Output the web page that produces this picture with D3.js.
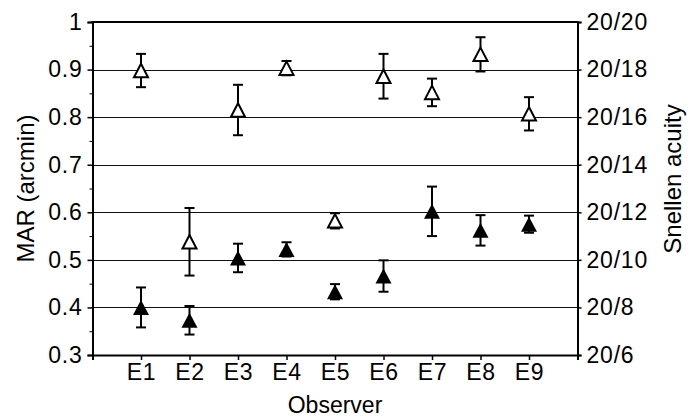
<!DOCTYPE html>
<html>
<head>
<meta charset="utf-8">
<script src="https://cdn.jsdelivr.net/npm/d3@7"></script>
<style>
    body { margin: 0; background: #fff; }
    text { font-family: "Liberation Sans", Arial, Helvetica, sans-serif; fill: #000; }
    .axis text { font-size: 23px; letter-spacing: 0.8px; }
</style>
</head>
<body>
<svg id="canvas"></svg>
<script>
var observers = ["E1", "E2", "E3", "E4", "E5", "E6", "E7", "E8", "E9"];

// open triangles (upper group)
var openMean = [0.898, 0.538, 0.815, 0.903, 0.582, 0.886, 0.852, 0.932, 0.807];
var openErr = [0.035, 0.071, 0.053, 0.015, 0.016, 0.047, 0.029, 0.036, 0.035];

// filled triangles (lower group)
var filledMean = [0.400, 0.373, 0.504, 0.522, 0.433, 0.466, 0.602, 0.562, 0.575];
var filledErr = [0.042, 0.030, 0.030, 0.015, 0.016, 0.033, 0.052, 0.032, 0.018];

var marTicks = [0.3, 0.4, 0.5, 0.6, 0.7, 0.8, 0.9, 1];
var marMinor = [0.35, 0.45, 0.55, 0.65, 0.75, 0.85, 0.95];
var snellenDenoms = [20, 18, 16, 14, 12, 10, 8, 6];

var w = 699
var h = 417
var pLeft = 92.5, pRight = 577.5, pTop = 22, pBottom = 355;

// ########## SVG ##########
var svg = d3.select("#canvas")
    .attr("width", w)
    .attr("height", h);

var x = d3.scaleLinear().domain([0, observers.length + 1]).range([pLeft, pRight]);
var y = d3.scaleLinear().domain([0.3, 1]).range([pBottom, pTop]);

// ########## Grid ##########
svg.append("g")
    .selectAll("line")
    .data(marTicks.filter(function (d) { return d > 0.3 && d < 1; })).enter()
    .append("line")
    .attr("x1", pLeft)
    .attr("x2", pRight)
    .attr("y1", function (d) { return Math.round(y(d)) + 0.5; })
    .attr("y2", function (d) { return Math.round(y(d)) + 0.5; })
    .attr("stroke", "#111")
    .attr("stroke-width", 1.2);

// ########## Axes ##########
var leftAxis = svg.append("g")
    .attr("class", "axis")
    .attr("transform", "translate(" + pLeft + ",0)")
    .call(d3.axisLeft(y).tickValues(marTicks).tickSize(5).tickPadding(5)
        .tickFormat(function (d) { return d === 1 ? "1" : d3.format(".1f")(d); }));

svg.append("g")
    .attr("transform", "translate(" + pLeft + ",0)")
    .call(d3.axisLeft(y).tickValues(marMinor).tickSize(3).tickFormat(""))
    .call(function (g) { g.select(".domain").remove(); });

var rightAxis = svg.append("g")
    .attr("class", "axis")
    .attr("transform", "translate(" + pRight + ",0)")
    .call(d3.axisRight(y).tickValues(snellenDenoms.map(function (d) { return d / 20; }))
        .tickSize(4).tickPadding(5)
        .tickFormat(function (d) { return "20/" + Math.round(d * 20); }));

var bottomAxis = svg.append("g")
    .attr("class", "axis")
    .attr("transform", "translate(0," + pBottom + ")")
    .call(d3.axisBottom(x).tickValues(d3.range(1, observers.length + 1)).tickSize(5).tickPadding(4)
        .tickFormat(function (d) { return observers[d - 1]; }));

[leftAxis, rightAxis, bottomAxis].forEach(function (g) {
    g.attr("font-size", 23).attr("font-family", null);
    g.selectAll("text").attr("fill", "#000");
    g.selectAll(".domain").attr("stroke-width", 2);
    g.selectAll(".tick line").attr("stroke-width", 1.5);
});
svg.selectAll(".domain").attr("stroke", "#000");

// top border
svg.append("line")
    .attr("x1", pLeft - 1)
    .attr("x2", pRight + 1)
    .attr("y1", pTop)
    .attr("y2", pTop)
    .attr("stroke", "#000")
    .attr("stroke-width", 2);

// ########## Titles ##########
svg.append("text")
    .attr("transform", "translate(34," + ((pTop + pBottom) / 2) + ") rotate(-90)")
    .attr("text-anchor", "middle")
    .style("font-size", "24px")
    .text("MAR (arcmin)");

svg.append("text")
    .attr("transform", "translate(681,179) rotate(-90)")
    .attr("text-anchor", "middle")
    .style("font-size", "24px")
    .text("Snellen acuity");

svg.append("text")
    .attr("x", 335)
    .attr("y", 413)
    .attr("text-anchor", "middle")
    .style("font-size", "23px")
    .text("Observer");

// ########## Error bars and markers ##########
function triangle(cx, cy, hw, ht) {
    return "M" + cx + "," + (cy - ht / 2) +
        "L" + (cx + hw) + "," + (cy + ht / 2) +
        "L" + (cx - hw) + "," + (cy + ht / 2) + "Z";
}

function drawSeries(means, errs, filled) {
    var data = means.map(function (m, i) { return { i: i + 1, m: m, e: errs[i] }; });
    var g = svg.append("g");
    var bars = g.selectAll(".bar")
        .data(data).enter()
        .append("g")
        .attr("stroke", "#000")
        .attr("stroke-width", 2);
    bars.append("line")
        .attr("x1", function (d) { return x(d.i); })
        .attr("x2", function (d) { return x(d.i); })
        .attr("y1", function (d) { return y(d.m + d.e); })
        .attr("y2", function (d) { return y(d.m - d.e); });
    bars.append("line")
        .attr("x1", function (d) { return x(d.i) - 5; })
        .attr("x2", function (d) { return x(d.i) + 5; })
        .attr("y1", function (d) { return y(d.m + d.e); })
        .attr("y2", function (d) { return y(d.m + d.e); });
    bars.append("line")
        .attr("x1", function (d) { return x(d.i) - 5; })
        .attr("x2", function (d) { return x(d.i) + 5; })
        .attr("y1", function (d) { return y(d.m - d.e); })
        .attr("y2", function (d) { return y(d.m - d.e); });

    g.selectAll(".marker")
        .data(data).enter()
        .append("path")
        .attr("d", function (d) {
            return filled ? triangle(x(d.i), y(d.m), 8, 15) : triangle(x(d.i), y(d.m), 7, 13.5);
        })
        .attr("fill", filled ? "#000" : "#fff")
        .attr("stroke", "#000")
        .attr("stroke-width", filled ? 0 : 2)
        .attr("stroke-linejoin", "miter");
}

drawSeries(openMean, openErr, false);
drawSeries(filledMean, filledErr, true);
</script>
</body>
</html>
